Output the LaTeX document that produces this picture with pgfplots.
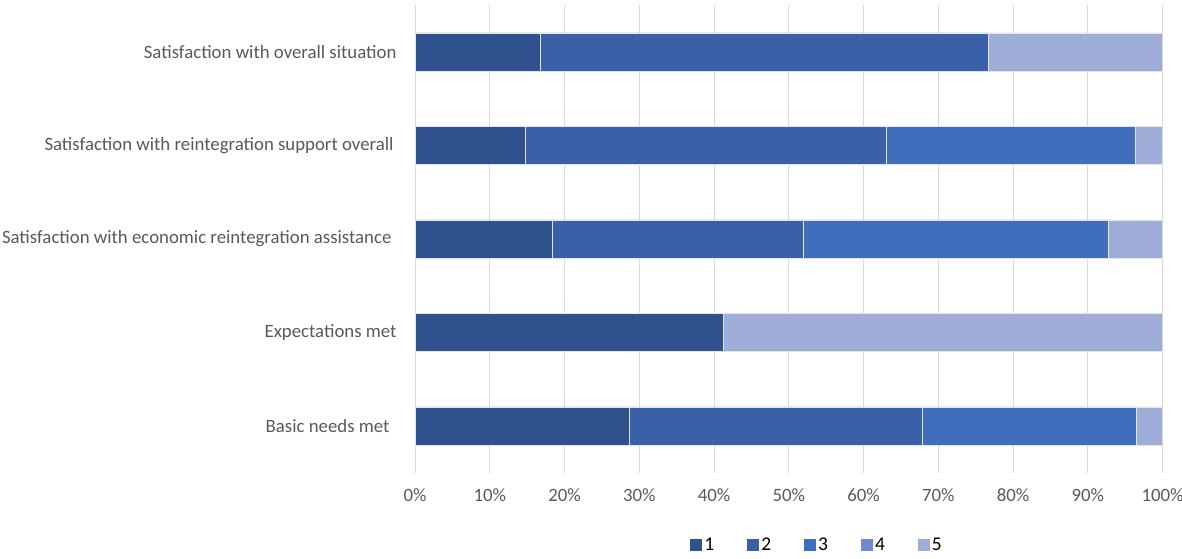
\documentclass[border=0pt]{standalone}
\usepackage{fontspec}
\setmainfont{Carlito}
\usepackage{pgfplots}
\pgfplotsset{compat=1.18}

\definecolor{c1}{RGB}{47,82,143}
\definecolor{c2}{RGB}{58,96,167}
\definecolor{c3}{RGB}{63,110,188}
\definecolor{c4}{RGB}{110,139,205}
\definecolor{c5}{RGB}{158,174,216}
\definecolor{gridgray}{RGB}{217,217,217}
\definecolor{labelgray}{RGB}{89,89,89}

% Share of answers 1..5 per item (percent); y = 0 is the bottom bar
\pgfplotstableread{
y  a1    a2    a3    a4  a5
0  28.6  39.3  28.6  0   3.5
1  41.2  0     0     0   58.8
2  18.4  33.5  40.8  0   7.3
3  14.8  48.2  33.3  0   3.7
4  16.7  60.0  0     0   23.3
}\shares

\begin{document}
\begin{tikzpicture}[x=1pt,y=1pt]
\useasboundingbox (0,0) rectangle (1182,558);
\begin{axis}[
  at={(415pt,85.3pt)}, anchor=south west,
  scale only axis, width=747.5pt, height=467.5pt,
  xbar stacked, bar width=38pt,
  xmin=0, xmax=100, ymin=-0.5, ymax=4.5,
  xtick={0,10,...,100},
  xticklabel={\pgfmathprintnumber{\tick}\%},
  ytick={0,1,2,3,4},
  yticklabels={Basic needs met\hspace*{7pt}, Expectations met,
    Satisfaction with economic reintegration assistance\hspace*{5pt},
    Satisfaction with reintegration support overall\hspace*{3pt},
    Satisfaction with overall situation},
  axis line style={draw=none},
  major tick length=0pt,
  xmajorgrids, grid style={color=gridgray, line width=1pt},
  tick label style={font=\fontsize{18.8}{22}\selectfont, text=labelgray},
  xticklabel style={yshift=-12pt},
  yticklabel style={xshift=-15pt},
  /pgf/number format/assume math mode=true,
  every axis plot/.append style={draw=white!80!gray, line width=0.3pt},
  legend columns=5,
  legend style={at={(0.538,-0.154)}, anchor=center, draw=none,
    font=\fontsize{19.5}{22}\selectfont, text=black,
    /tikz/every even column/.append style={column sep=31pt}},
  legend image code/.code={\fill[#1,draw=none] (0pt,-6pt) rectangle (12pt,6pt);},
]
\addplot[fill=c1] table[x=a1, y=y] {\shares};
\addplot[fill=c2] table[x=a2, y=y] {\shares};
\addplot[fill=c3] table[x=a3, y=y] {\shares};
\addplot[fill=c4] table[x=a4, y=y] {\shares};
\addplot[fill=c5] table[x=a5, y=y] {\shares};
\legend{1,2,3,4,5}
\end{axis}
\end{tikzpicture}
\end{document}
